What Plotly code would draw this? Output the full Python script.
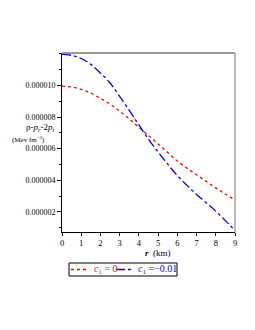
import plotly.graph_objects as go

r_km = [0, 0.5, 1, 1.5, 2, 2.5, 3, 3.5, 4, 4.5, 5, 5.5, 6, 6.5, 7, 7.5, 8, 8.5, 9]
c1_zero = [9.96e-6, 9.90e-6, 9.75e-6, 9.51e-6, 9.18e-6, 8.82e-6, 8.37e-6, 7.88e-6, 7.35e-6, 6.84e-6,
           6.30e-6, 5.76e-6, 5.22e-6, 4.77e-6, 4.35e-6, 3.93e-6, 3.52e-6, 3.13e-6, 2.75e-6]
c1_neg = [11.96e-6, 11.90e-6, 11.70e-6, 11.33e-6, 10.78e-6, 10.15e-6, 9.30e-6, 8.42e-6, 7.50e-6, 6.60e-6,
          5.78e-6, 5.02e-6, 4.30e-6, 3.68e-6, 3.10e-6, 2.58e-6, 2.05e-6, 1.45e-6, 0.82e-6]
y_tickvals = [2e-6, 4e-6, 6e-6, 8e-6, 10e-6]
y_ticktext = ["0.000002", "0.000004", "0.000006", "0.000008", "0.000010"]
x_tickvals = [0, 1, 2, 3, 4, 5, 6, 7, 8, 9]
legend_names = ["<i>c</i><sub>1</sub> = 0", "<i>c</i><sub>1</sub> =\u22120.01"]
colors = ["red", "blue"]
dashes = ["dot", "dashdot"]

font = "Liberation Serif, Times New Roman, serif"

fig = go.Figure()
for ys, nm, col, ds in zip([c1_zero, c1_neg], legend_names, colors, dashes):
    fig.add_trace(go.Scatter(x=r_km, y=ys, mode="lines", name=nm, showlegend=False,
                             line=dict(color=col, width=1.3, dash=ds, shape="spline")))

# page px -> paper coords (plot area spans x 62..235, y 53..232 on the page)
def px(X):
    return (X - 62) / 173.0

def py(Y):
    return (232 - Y) / 179.0

shapes = [
    dict(type="line", xref="paper", yref="paper", x0=0, x1=1, y0=1, y1=1,
         line=dict(color="#999999", width=2)),
    dict(type="line", xref="paper", yref="paper", x0=1, x1=1, y0=0, y1=1,
         line=dict(color="#777777", width=1)),
    # legend box
    dict(type="rect", xref="paper", yref="paper", x0=px(69), x1=px(177), y0=py(276), y1=py(263),
         line=dict(color="black", width=1), fillcolor="white"),
    dict(type="line", xref="paper", yref="paper", x0=px(71), x1=px(89), y0=py(269.5), y1=py(269.5),
         line=dict(color=colors[0], width=1.3, dash=dashes[0])),
    dict(type="line", xref="paper", yref="paper", x0=px(116), x1=px(134), y0=py(269.5), y1=py(269.5),
         line=dict(color=colors[1], width=1.3, dash=dashes[1])),
]

annotations = [
    dict(text="\u03c1-<i>p</i><sub><i>r</i></sub>-2<i>p</i><sub><i>t</i></sub>",
         xref="paper", yref="paper", x=px(56), y=py(127), xanchor="right", yanchor="middle",
         showarrow=False, font=dict(size=9)),
    dict(text="(Mev fm<sup>\u22123</sup>)",
         xref="paper", yref="paper", x=px(47), y=py(139), xanchor="right", yanchor="middle",
         showarrow=False, font=dict(size=7)),
    dict(text="<b><i>r</i></b>  (km)", xref="paper", yref="paper", x=px(158), y=py(253),
         xanchor="center", yanchor="middle", showarrow=False, font=dict(size=9)),
    dict(text=legend_names[0], xref="paper", yref="paper", x=px(92), y=py(269), xanchor="left",
         yanchor="middle", showarrow=False, font=dict(size=10, color=colors[0])),
    dict(text=legend_names[1], xref="paper", yref="paper", x=px(136), y=py(269), xanchor="left",
         yanchor="middle", showarrow=False, font=dict(size=10, color=colors[1])),
]

fig.update_layout(
    width=247, height=322,
    margin=dict(l=54, r=20, t=45, b=98),
    paper_bgcolor="white", plot_bgcolor="white",
    font=dict(family=font, size=9, color="black"),
    showlegend=False,
    xaxis=dict(range=[0, 9], tickvals=x_tickvals, showgrid=False, zeroline=False,
               showline=True, linecolor="black", linewidth=1, ticks="outside",
               ticklen=3, tickcolor="black", tickfont=dict(size=8.5)),
    yaxis=dict(range=[0.73e-6, 12.05e-6], tickvals=y_tickvals, ticktext=y_ticktext,
               showgrid=False, zeroline=False, showline=True, linecolor="black",
               linewidth=1, ticks="outside", ticklen=4, tickcolor="black", tickfont=dict(size=8),
               minor=dict(dtick=1e-6, ticks="outside", ticklen=2, tickcolor="black")),
    shapes=shapes,
    annotations=annotations,
)

fig.write_html("out.html")
